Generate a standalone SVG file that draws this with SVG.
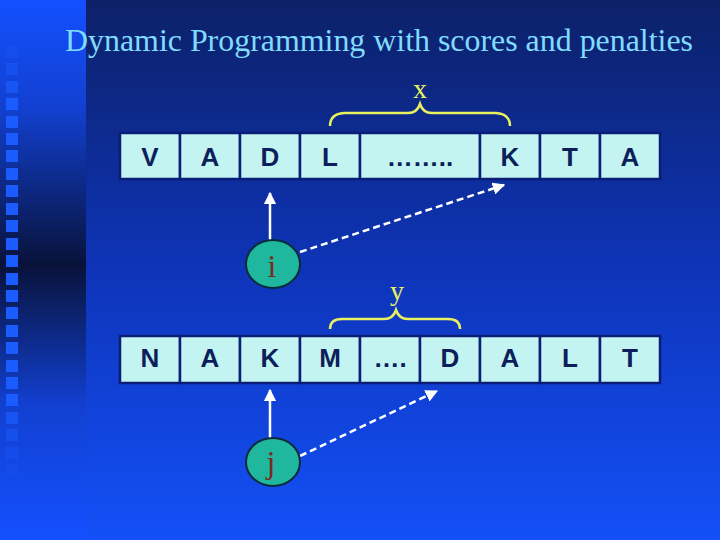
<svg xmlns="http://www.w3.org/2000/svg" width="720" height="540" viewBox="0 0 720 540">
<defs>
<linearGradient id="bgMain" x1="0" y1="0" x2="0" y2="1">
<stop offset="0" stop-color="#0c2168"/>
<stop offset="0.5" stop-color="#0e34b8"/>
<stop offset="1" stop-color="#1450f8"/>
</linearGradient>
<linearGradient id="bgLeft" x1="0" y1="0" x2="0" y2="1">
<stop offset="0" stop-color="#1450ff"/>
<stop offset="0.2" stop-color="#1240d0"/>
<stop offset="0.49" stop-color="#08123a"/>
<stop offset="0.75" stop-color="#1240d0"/>
<stop offset="1" stop-color="#1450ff"/>
</linearGradient>
<marker id="ah" viewBox="0 0 10 10" refX="9" refY="5" markerWidth="5" markerHeight="5" orient="auto">
<path d="M0,0 L10,5 L0,10 z" fill="#ffffff"/>
</marker>
<style>
.cell{fill:#c4f4f2;stroke:#0a1e78;stroke-width:2.5}
.lt{font-family:"Liberation Sans",Arial,sans-serif;font-weight:bold;font-size:26px;fill:#0c1f5a;text-anchor:middle}
.brace{fill:none;stroke:#e8f060;stroke-width:2.5}
.blab{font-family:"Liberation Serif","Times New Roman",serif;font-size:28px;fill:#e8f060;text-anchor:middle}
.circ{fill:#1fb89e;stroke:#0a2a3a;stroke-width:2}
.ct{font-family:"Liberation Serif","Times New Roman",serif;font-size:32px;fill:#7a2a20;text-anchor:middle}
.solid{stroke:#ffffff;stroke-width:2.5;fill:none}
.dash{stroke:#ffffff;stroke-width:2.5;stroke-dasharray:7 4;fill:none}
.sq{fill:#1a5cff}
</style>
</defs>
<rect x="0" y="0" width="720" height="540" fill="url(#bgMain)"/>
<rect x="0" y="0" width="86" height="540" fill="url(#bgLeft)"/>
<g id="squares">
<rect class="sq" x="6" y="46" width="12" height="12" opacity="0.25"/>
<rect class="sq" x="6" y="63" width="12" height="12" opacity="0.45"/>
<rect class="sq" x="6" y="81" width="12" height="12" opacity="0.7"/>
<rect class="sq" x="6" y="98" width="12" height="12"/>
<rect class="sq" x="6" y="116" width="12" height="12"/>
<rect class="sq" x="6" y="133" width="12" height="12"/>
<rect class="sq" x="6" y="150" width="12" height="12"/>
<rect class="sq" x="6" y="168" width="12" height="12"/>
<rect class="sq" x="6" y="185" width="12" height="12"/>
<rect class="sq" x="6" y="203" width="12" height="12"/>
<rect class="sq" x="6" y="220" width="12" height="12"/>
<rect class="sq" x="6" y="238" width="12" height="12"/>
<rect class="sq" x="6" y="255" width="12" height="12"/>
<rect class="sq" x="6" y="273" width="12" height="12"/>
<rect class="sq" x="6" y="290" width="12" height="12"/>
<rect class="sq" x="6" y="307" width="12" height="12"/>
<rect class="sq" x="6" y="325" width="12" height="12"/>
<rect class="sq" x="6" y="342" width="12" height="12"/>
<rect class="sq" x="6" y="360" width="12" height="12"/>
<rect class="sq" x="6" y="377" width="12" height="12"/>
<rect class="sq" x="6" y="394" width="12" height="12"/>
<rect class="sq" x="6" y="412" width="12" height="12" opacity="0.7"/>
<rect class="sq" x="6" y="429" width="12" height="12" opacity="0.5"/>
<rect class="sq" x="6" y="447" width="12" height="12" opacity="0.3"/>
<rect class="sq" x="6" y="464" width="12" height="12" opacity="0.15"/>
</g>
<text x="379" y="51" font-family="'Liberation Serif','Times New Roman',serif" font-size="32" fill="#80dcff" text-anchor="middle" textLength="628" lengthAdjust="spacingAndGlyphs">Dynamic Programming with scores and penalties</text>
<g id="row1">
<rect class="cell" x="120" y="133" width="60" height="46"/><text class="lt" x="150" y="166">V</text>
<rect class="cell" x="180" y="133" width="60" height="46"/><text class="lt" x="210" y="166">A</text>
<rect class="cell" x="240" y="133" width="60" height="46"/><text class="lt" x="270" y="166">D</text>
<rect class="cell" x="300" y="133" width="60" height="46"/><text class="lt" x="330" y="166">L</text>
<rect class="cell" x="360" y="133" width="120" height="46"/><text class="lt" x="420" y="166">……..</text>
<rect class="cell" x="480" y="133" width="60" height="46"/><text class="lt" x="510" y="166">K</text>
<rect class="cell" x="540" y="133" width="60" height="46"/><text class="lt" x="570" y="166">T</text>
<rect class="cell" x="600" y="133" width="60" height="46"/><text class="lt" x="630" y="166">A</text>
</g>
<g id="row2">
<rect class="cell" x="120" y="336" width="60" height="47"/><text class="lt" x="150" y="367">N</text>
<rect class="cell" x="180" y="336" width="60" height="47"/><text class="lt" x="210" y="367">A</text>
<rect class="cell" x="240" y="336" width="60" height="47"/><text class="lt" x="270" y="367">K</text>
<rect class="cell" x="300" y="336" width="60" height="47"/><text class="lt" x="330" y="367">M</text>
<rect class="cell" x="360" y="336" width="60" height="47"/><text class="lt" x="390" y="367">….</text>
<rect class="cell" x="420" y="336" width="60" height="47"/><text class="lt" x="450" y="367">D</text>
<rect class="cell" x="480" y="336" width="60" height="47"/><text class="lt" x="510" y="367">A</text>
<rect class="cell" x="540" y="336" width="60" height="47"/><text class="lt" x="570" y="367">L</text>
<rect class="cell" x="600" y="336" width="60" height="47"/><text class="lt" x="630" y="367">T</text>
</g>
<g id="braceX">
<path class="brace" d="M330,126 Q330,114 344,113 L408,113 Q417,113 420,104 Q423,113 432,113 L496,113 Q510,114 510,126"/>
<text class="blab" x="420" y="98">x</text>
</g>
<g id="braceY">
<path class="brace" d="M330,329 Q330,319 342,319 L384,319 Q393,319 396,310 Q399,319 408,319 L448,319 Q460,319 460,329"/>
<text class="blab" x="397" y="300">y</text>
</g>
<g id="connectors">
<line class="solid" x1="270" y1="240" x2="270" y2="193" marker-end="url(#ah)"/>
<line class="dash" x1="300" y1="252" x2="504" y2="185" marker-end="url(#ah)"/>
<line class="solid" x1="270" y1="438" x2="270" y2="390" marker-end="url(#ah)"/>
<line class="dash" x1="300" y1="456" x2="437" y2="391" marker-end="url(#ah)"/>
</g>
<g id="node-i">
<ellipse class="circ" cx="273" cy="264" rx="27" ry="24"/>
<text class="ct" x="272" y="277">i</text>
</g>
<g id="node-j">
<ellipse class="circ" cx="273" cy="462" rx="27" ry="24"/>
<text class="ct" x="271" y="473">j</text>
</g>
</svg>
